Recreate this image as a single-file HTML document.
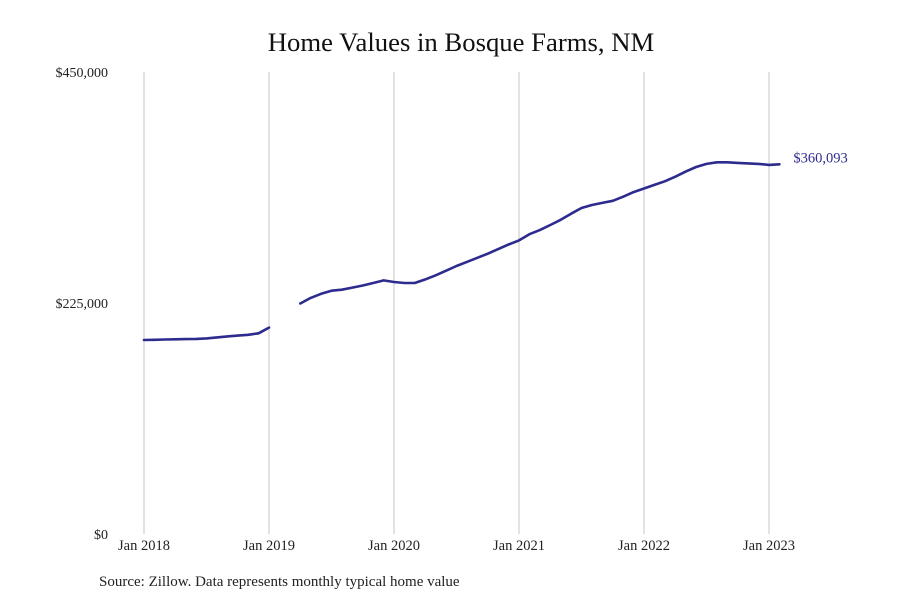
<!DOCTYPE html>
<html><head><meta charset="utf-8"><style>
body{margin:0;background:#fff;}
svg{display:block;font-family:"Liberation Serif",serif;}
</style></head><body>
<svg id="chart" width="900" height="600">
<text x="461" y="51" text-anchor="middle" font-size="26.7" fill="#111">Home Values in Bosque Farms, NM</text>
<g id="grid"></g><g id="yaxis"></g><g id="xaxis"></g><g id="series"></g>
<text x="99" y="586" font-size="15" fill="#222">Source: Zillow. Data represents monthly typical home value</text>
</svg>
<script>
const xTickLabels=["Jan 2018","Jan 2019","Jan 2020","Jan 2021","Jan 2022","Jan 2023"];
const yTicks=[0,225000,450000];
const yTickLabels=["$0","$225,000","$450,000"];
// monthly values starting Jan 2018 (thousands); null = missing
const values=[189,189.2,189.4,189.6,189.8,190,190.5,191.5,192.5,193.2,194,195.5,201,null,null,
224.5,230,234,237,238,240,242,244.5,247,245.5,244.5,244.5,248,252,256.5,261,265,269,273,277.5,282,
286,292,296,301,306,312,317.5,320.5,322.5,324.5,328.5,333,336.5,340,343.5,348,353,357.5,360.5,362,
362,361.5,361,360.5,359.5,360.093];
const lastLabel="$360,093";
const ns="http://www.w3.org/2000/svg";
function X(m){return 144+m*125/12;}
function Y(v){return 534-v*462/450000;}
function mk(t,a,p){const e=document.createElementNS(ns,t);for(const k in a)e.setAttribute(k,a[k]);p.appendChild(e);return e;}
const grid=document.getElementById('grid'),xa=document.getElementById('xaxis'),ya=document.getElementById('yaxis'),se=document.getElementById('series');
xTickLabels.forEach((l,i)=>{
 const x=X(i*12);
 const g=mk('line',{x1:x,x2:x,y1:72,y2:534,stroke:'#c4c4c4','stroke-width':1},grid);
 
 
 const t=mk('text',{x:x,y:550,'text-anchor':'middle','font-size':14.5,fill:'#222'},xa);
 t.textContent=l;
 
 
});
yTicks.forEach((v,i)=>{
 const t=mk('text',{x:108,y:Y(v)+5,'text-anchor':'end','font-size':14,fill:'#222'},ya);
 t.textContent=yTickLabels[i];
 
 
});
let segs=[],cur=[];
values.forEach((v,i)=>{if(v==null){if(cur.length)segs.push(cur);cur=[];}else cur.push(X(i).toFixed(1)+','+Y(v*1000).toFixed(1));});
if(cur.length)segs.push(cur);
segs.forEach(s=>{
 const p=mk('polyline',{points:s.join(' '),fill:'none',stroke:'#2e2b8e','stroke-width':2.6,'stroke-linejoin':'round','stroke-linecap':'round'},se);
 
 
});
const li=values.length-1;
const lt=mk('text',{x:X(li)+14,y:Y(values[li]*1000)-2,'font-size':14.5,fill:'#2e2b8e'},se);
lt.textContent=lastLabel;


</script>
</body></html>
